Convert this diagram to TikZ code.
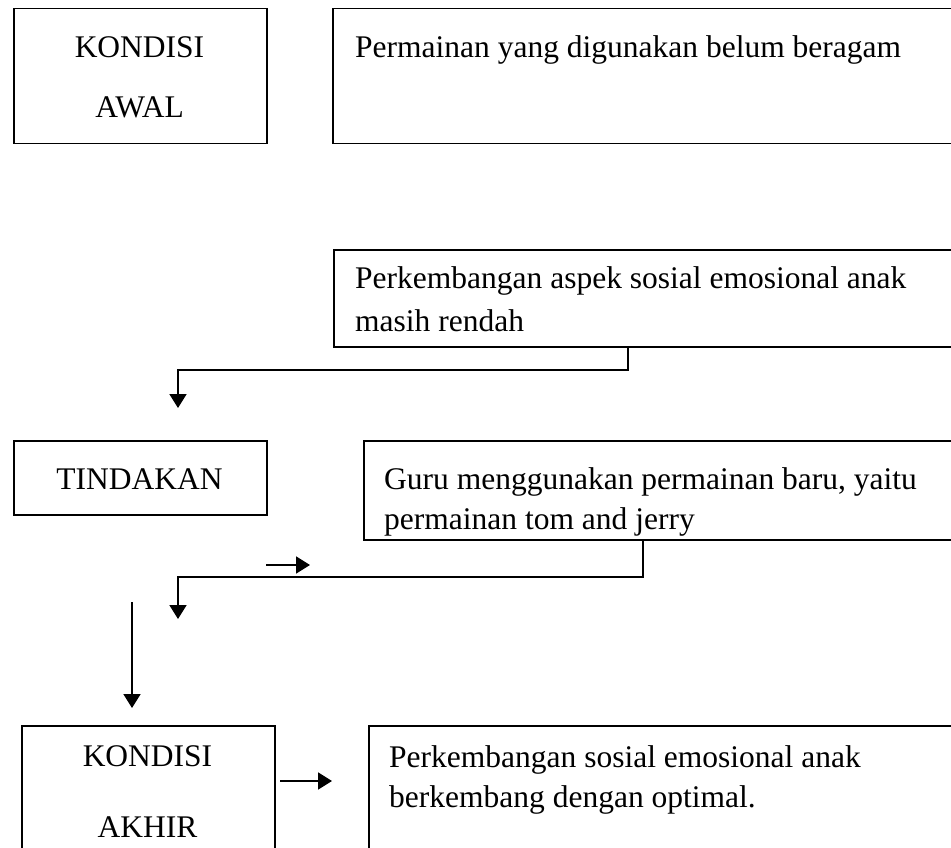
\documentclass[tikz,border=0pt]{standalone}
\usepackage{fontspec}
\setmainfont{Liberation Serif}
\usetikzlibrary{arrows.meta}

\tikzset{
  kotak/.style={draw, line width=1.5pt, inner sep=0pt, anchor=north west},
  isi/.style={anchor=base west, inner sep=0pt, font=\fontsize{31.5}{31.5}\selectfont},
  judul/.style={anchor=base, inner sep=0pt, font=\fontsize{31.5}{31.5}\selectfont},
  panah/.style={line width=1.8pt, -{Triangle[length=14pt,width=17pt]}}
}

\begin{document}
\begin{tikzpicture}[x=1pt, y=-1pt]

    \useasboundingbox (0,0) rectangle (951,848);
    \clip (0,0) rectangle (951,848);

    % kotak
    \node[kotak, minimum width=253pt, minimum height=135pt] (awal) at (13,8) {};
    \node[kotak, minimum width=640pt, minimum height=135pt] (masalah) at (332,8) {};
    \node[kotak, minimum width=640pt, minimum height=97pt] (aspek) at (333,249) {};
    \node[kotak, minimum width=253pt, minimum height=74pt] (tindakan) at (13,440) {};
    \node[kotak, minimum width=610pt, minimum height=99pt] (guru) at (363,440) {};
    \node[kotak, minimum width=253pt, minimum height=160pt] (akhir) at (21,725) {};
    \node[kotak, minimum width=600pt, minimum height=160pt] (hasil) at (368,725) {};

    % teks
    \node[judul] (t1) at (139.5,58) {KONDISI};
    \node[judul] (t2) at (139.5,118) {AWAL};
    \node[isi] (t3) at (355,58) {Permainan yang digunakan belum beragam};
    \node[isi] (t4) at (355,288) {Perkembangan aspek sosial emosional anak};
    \node[isi] (t5) at (355,331) {masih rendah};
    \node[judul] (t6) at (139.5,489) {TINDAKAN};
    \node[isi] (t7) at (384,489) {Guru menggunakan permainan baru, yaitu};
    \node[isi] (t8) at (384,529) {permainan tom and jerry};
    \node[judul] (t9) at (147.5,766) {KONDISI};
    \node[judul] (t10) at (147.5,837) {AKHIR};
    \node[isi] (t11) at (389,767) {Perkembangan sosial emosional anak};
    \node[isi] (t12) at (389,807) {berkembang dengan optimal.};

    % panah
    \coordinate (belok1) at (628,370);
    \coordinate (ujung1) at (178,408);
    \draw[panah] (aspek.south -| belok1) -- (belok1) -| (ujung1);

    \coordinate (belok2) at (643,577);
    \coordinate (ujung2) at (178,619);
    \draw[panah] (guru.south -| belok2) -- (belok2) -| (ujung2);

    \coordinate (p1) at (266,565);
    \coordinate (p2) at (310,565);
    \draw[panah] (p1) -- (p2);

    \coordinate (p3) at (132,602);
    \coordinate (p4) at (132,708);
    \draw[panah] (p3) -- (p4);

    \coordinate (p5) at (280,781);
    \coordinate (p6) at (332,781);
    \draw[panah] (p5) -- (p6);

\end{tikzpicture}
\end{document}
